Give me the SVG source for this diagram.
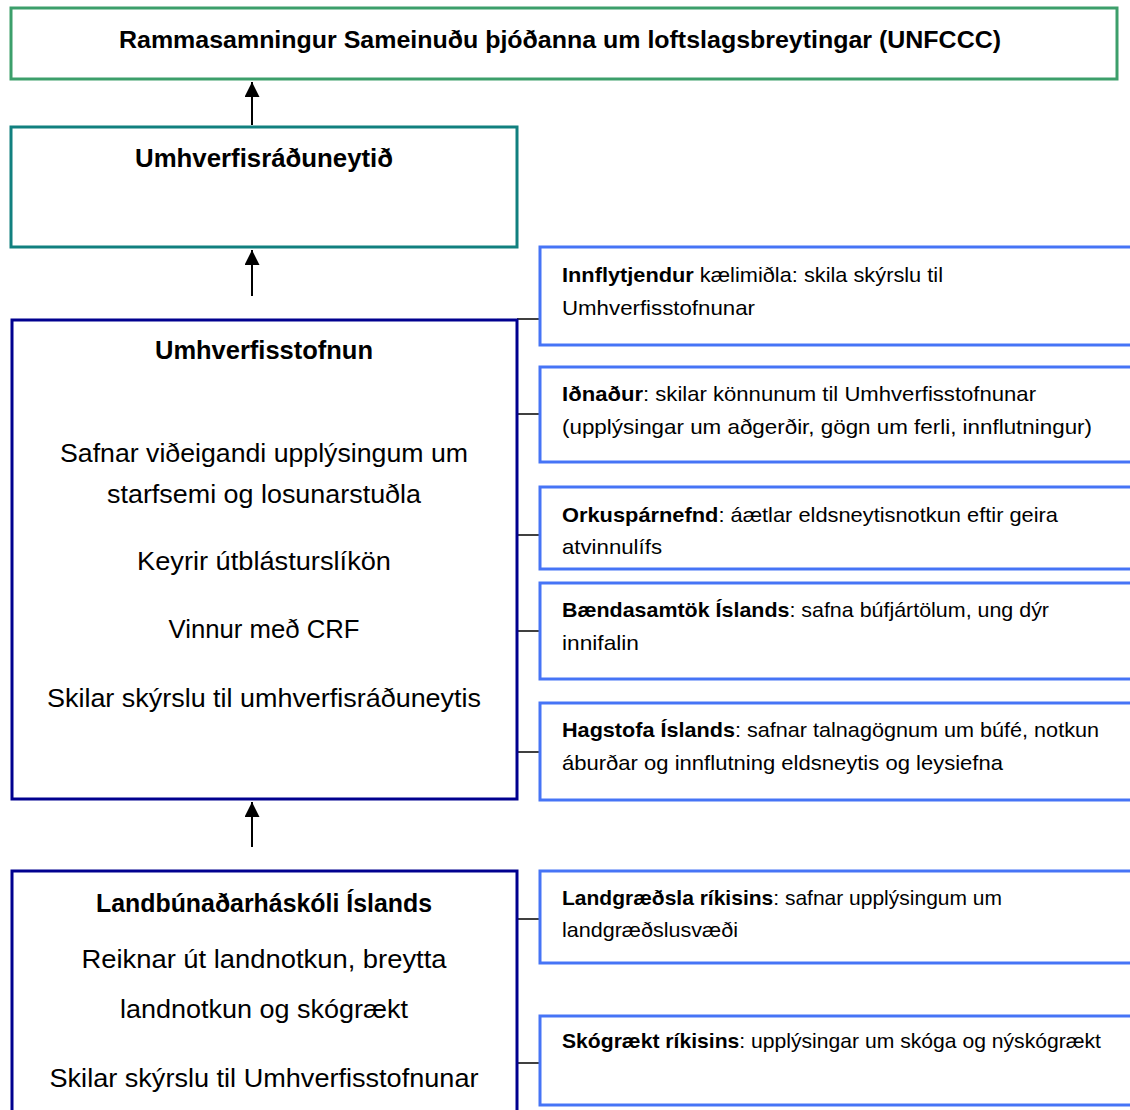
<svg xmlns="http://www.w3.org/2000/svg" width="1130" height="1110" viewBox="0 0 1130 1110">
<style>
  .bg { fill: #ffffff; }
  .box { fill: #ffffff; stroke-width: 3; }
  .green { stroke: #3c9f6b; }
  .teal { stroke: #11807f; }
  .navy { stroke: #00008f; }
  .blue { stroke: #4674f6; }
  .tick { stroke: #000000; stroke-width: 1.5; fill: none; }
  .shaft { stroke: #000000; stroke-width: 2; fill: none; }
  text { font-family: "Liberation Sans", Arial, sans-serif; fill: #000000; }
  .title { font-size: 24px; font-weight: bold; text-anchor: middle; }
  .head { font-size: 25px; font-weight: bold; text-anchor: middle; }
  .body { font-size: 26px; text-anchor: middle; }
  .side { font-size: 21px; }
  .b { font-weight: bold; }
</style>
<defs>
  <marker id="arrow" viewBox="0 0 10 10" refX="10" refY="5" markerWidth="15" markerHeight="15" markerUnits="userSpaceOnUse" orient="auto">
    <path d="M0,0 L10,5 L0,10 Z" fill="#000000"/>
  </marker>
</defs>
<rect class="bg" x="0" y="0" width="1130" height="1110"/>

<g id="connectors">
  <line class="shaft" x1="252" y1="125" x2="252" y2="82" marker-end="url(#arrow)"/>
  <line class="shaft" x1="252" y1="296" x2="252" y2="250" marker-end="url(#arrow)"/>
  <line class="shaft" x1="252" y1="847" x2="252" y2="802" marker-end="url(#arrow)"/>
  <line class="tick" x1="517" y1="319" x2="540" y2="319"/>
  <line class="tick" x1="517" y1="414" x2="540" y2="414"/>
  <line class="tick" x1="517" y1="535" x2="540" y2="535"/>
  <line class="tick" x1="517" y1="631" x2="540" y2="631"/>
  <line class="tick" x1="517" y1="752" x2="540" y2="752"/>
  <line class="tick" x1="517" y1="919" x2="540" y2="919"/>
  <line class="tick" x1="517" y1="1063" x2="540" y2="1063"/>
</g>

<g id="unfccc">
  <rect class="box green" x="11" y="8" width="1106" height="71"/>
  <text class="title" x="560" y="48" textLength="882" lengthAdjust="spacingAndGlyphs">Rammasamningur Sameinuðu þjóðanna um loftslagsbreytingar (UNFCCC)</text>
</g>

<g id="umhverfisraduneytid">
  <rect class="box teal" x="11" y="127" width="506" height="120"/>
  <text class="head" x="264" y="167" textLength="258" lengthAdjust="spacingAndGlyphs">Umhverfisráðuneytið</text>
</g>

<g id="umhverfisstofnun">
  <rect class="box navy" x="12" y="320" width="505" height="479"/>
  <text class="head" x="264" y="359" textLength="218" lengthAdjust="spacingAndGlyphs">Umhverfisstofnun</text>
  <text class="body" x="264" y="462" textLength="408" lengthAdjust="spacingAndGlyphs">Safnar viðeigandi upplýsingum um</text>
  <text class="body" x="264" y="503" textLength="314" lengthAdjust="spacingAndGlyphs">starfsemi og losunarstuðla</text>
  <text class="body" x="264" y="570" textLength="254" lengthAdjust="spacingAndGlyphs">Keyrir útblásturslíkön</text>
  <text class="body" x="264" y="638" textLength="191" lengthAdjust="spacingAndGlyphs">Vinnur með CRF</text>
  <text class="body" x="264" y="707" textLength="434" lengthAdjust="spacingAndGlyphs">Skilar skýrslu til umhverfisráðuneytis</text>
</g>

<g id="landbunadarhaskoli">
  <rect class="box navy" x="12" y="871" width="505" height="260"/>
  <text class="head" x="264" y="912" textLength="336" lengthAdjust="spacingAndGlyphs">Landbúnaðarháskóli Íslands</text>
  <text class="body" x="264" y="968" textLength="365" lengthAdjust="spacingAndGlyphs">Reiknar út landnotkun, breytta</text>
  <text class="body" x="264" y="1018" textLength="288" lengthAdjust="spacingAndGlyphs">landnotkun og skógrækt</text>
  <text class="body" x="264" y="1087" textLength="429" lengthAdjust="spacingAndGlyphs">Skilar skýrslu til Umhverfisstofnunar</text>
</g>

<g id="innflytjendur">
  <rect class="box blue" x="540" y="247" width="600" height="98"/>
  <text class="side" x="562" y="282" textLength="381" lengthAdjust="spacingAndGlyphs"><tspan class="b">Innflytjendur</tspan> kælimiðla: skila skýrslu til</text>
  <text class="side" x="562" y="315" textLength="193" lengthAdjust="spacingAndGlyphs">Umhverfisstofnunar</text>
</g>

<g id="idnadur">
  <rect class="box blue" x="540" y="367" width="600" height="95"/>
  <text class="side" x="562" y="401" textLength="474" lengthAdjust="spacingAndGlyphs"><tspan class="b">Iðnaður</tspan>: skilar könnunum til Umhverfisstofnunar</text>
  <text class="side" x="562" y="434" textLength="530" lengthAdjust="spacingAndGlyphs">(upplýsingar um aðgerðir, gögn um ferli, innflutningur)</text>
</g>

<g id="orkusparnefnd">
  <rect class="box blue" x="540" y="487" width="600" height="82"/>
  <text class="side" x="562" y="522" textLength="496" lengthAdjust="spacingAndGlyphs"><tspan class="b">Orkuspárnefnd</tspan>: áætlar eldsneytisnotkun eftir geira</text>
  <text class="side" x="562" y="554" textLength="100" lengthAdjust="spacingAndGlyphs">atvinnulífs</text>
</g>

<g id="baendasamtok">
  <rect class="box blue" x="540" y="583" width="600" height="96"/>
  <text class="side" x="562" y="617" textLength="487" lengthAdjust="spacingAndGlyphs"><tspan class="b">Bændasamtök Íslands</tspan>: safna búfjártölum, ung dýr</text>
  <text class="side" x="562" y="650" textLength="77" lengthAdjust="spacingAndGlyphs">innifalin</text>
</g>

<g id="hagstofa">
  <rect class="box blue" x="540" y="703" width="600" height="97"/>
  <text class="side" x="562" y="737" textLength="537" lengthAdjust="spacingAndGlyphs"><tspan class="b">Hagstofa Íslands</tspan>: safnar talnagögnum um búfé, notkun</text>
  <text class="side" x="562" y="770" textLength="441" lengthAdjust="spacingAndGlyphs">áburðar og innflutning eldsneytis og leysiefna</text>
</g>

<g id="landgraedsla">
  <rect class="box blue" x="540" y="871" width="600" height="92"/>
  <text class="side" x="562" y="905" textLength="440" lengthAdjust="spacingAndGlyphs"><tspan class="b">Landgræðsla ríkisins</tspan>: safnar upplýsingum um</text>
  <text class="side" x="562" y="937" textLength="176" lengthAdjust="spacingAndGlyphs">landgræðslusvæði</text>
</g>

<g id="skograekt">
  <rect class="box blue" x="540" y="1016" width="600" height="89"/>
  <text class="side" x="562" y="1048" textLength="539" lengthAdjust="spacingAndGlyphs"><tspan class="b">Skógrækt ríkisins</tspan>: upplýsingar um skóga og nýskógrækt</text>
</g>
</svg>
